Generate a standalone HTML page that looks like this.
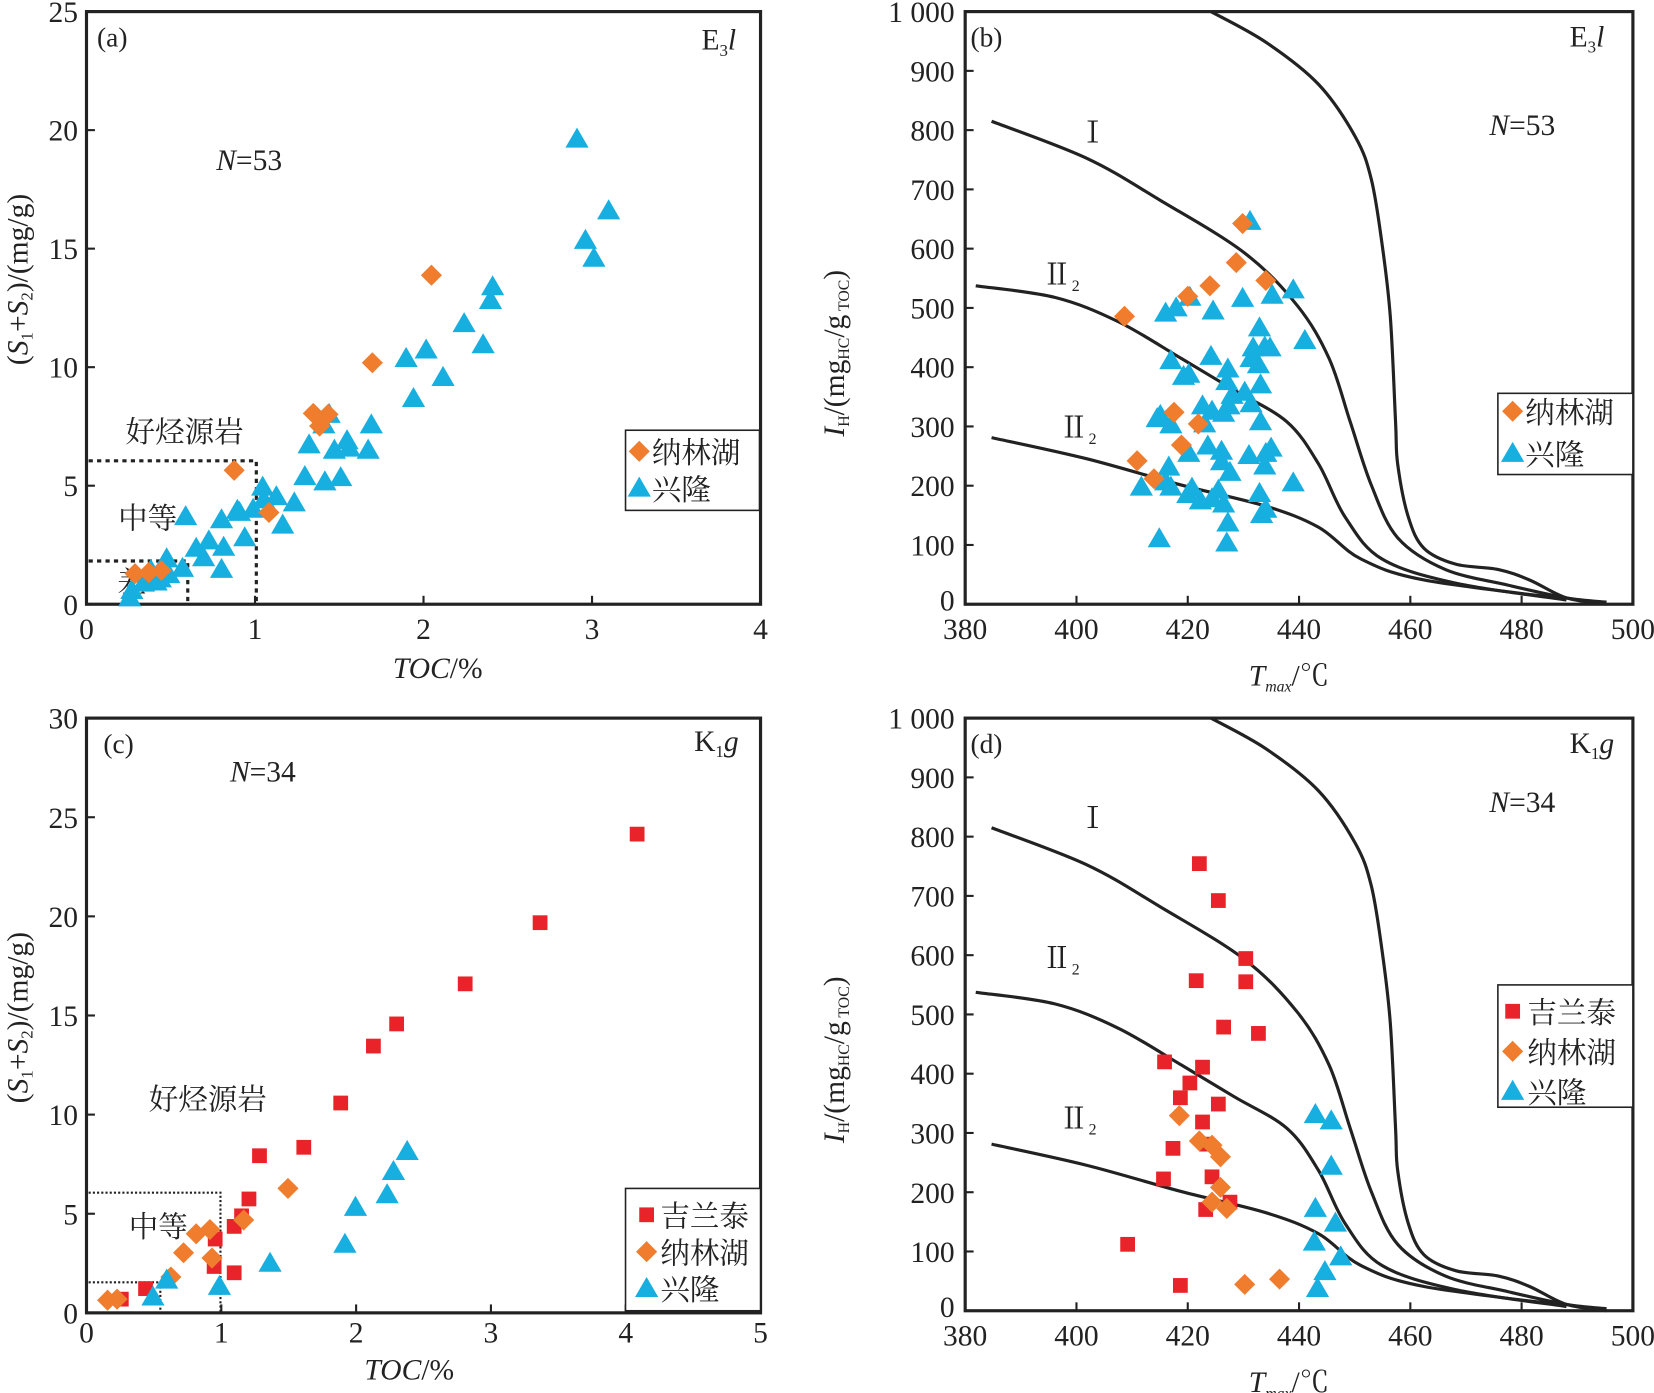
<!DOCTYPE html>
<html><head><meta charset="utf-8"><style>
html,body{margin:0;padding:0;background:#fff;width:1654px;height:1393px;overflow:hidden}
svg{display:block}
text{font-family:"Liberation Serif","Noto Serif CJK SC",serif;fill:#222}
</style></head><body>
<svg id="s" width="1654" height="1393" viewBox="0 0 1568 1321" preserveAspectRatio="none" xmlns="http://www.w3.org/2000/svg">
</svg>
<script>
const S=document.getElementById('s');let h='';
const O='#f07c2e',B='#17aee0',R='#e8242a';
function tri(x,y){h+=`<polygon points="${x},${y-11} ${x-11},${y+8} ${x+11},${y+8}" fill="${B}"/>`;}
function dia(x,y){h+=`<polygon points="${x},${y-10} ${x+10},${y} ${x},${y+10} ${x-10},${y}" fill="${O}"/>`;}
function sq(x,y){h+=`<rect x="${x-7}" y="${y-7}" width="14" height="14" fill="${R}"/>`;}
function t(x,y,s,sz,anc,extra){h+=`<text x="${x}" y="${y}" font-size="${sz||28}" text-anchor="${anc||'middle'}" ${extra||''}>${s}</text>`;}
function box(x1,y1,x2,y2){h+=`<rect x="${x1}" y="${y1}" width="${x2-x1}" height="${y2-y1}" fill="none" stroke="#222" stroke-width="3"/>`;}
function xt(x,y){h+=`<line x1="${x}" y1="${y}" x2="${x}" y2="${y-8}" stroke="#222" stroke-width="2"/>`;}
function yt(x,y){h+=`<line x1="${x}" y1="${y}" x2="${x+8}" y2="${y}" stroke="#222" stroke-width="2"/>`;}
function pl(pts,dy){
 const P=pts.map(p=>[p[0],p[1]+dy]);let d=`M${P[0][0]},${P[0][1]}`;
 for(let i=0;i<P.length-1;i++){const p0=P[i-1]||P[i],p1=P[i],p2=P[i+1],p3=P[i+2]||p2;
  d+=` C${p1[0]+(p2[0]-p0[0])/6},${p1[1]+(p2[1]-p0[1])/6} ${p2[0]-(p3[0]-p1[0])/6},${p2[1]-(p3[1]-p1[1])/6} ${p2[0]},${p2[1]}`;}
 h+=`<path d="${d}" fill="none" stroke="#222" stroke-width="3" stroke-linejoin="round"/>`;}
// ---- Panel a
box(82,11,721,573);
for(let i=0;i<=4;i++){let x=82+i*159.75;xt(x,573);t(x,606,i);}
for(let i=0;i<=5;i++){let y=573-i*5*22.48;yt(82,y);t(74,y+10,i*5,28,'end');}
h+=`<path d="M84,437 H243 V573 M84,532 H178 V573" fill="none" stroke="#222" stroke-width="3" stroke-dasharray="4,4"/>`;
t(92,44,'(a)',26,'start');t(665,47,'E<tspan font-size="16" dy="6">3</tspan><tspan dy="-6" font-style="italic">l</tspan>',28,'start');
t(205,161,'<tspan font-style="italic">N</tspan>=53',28,'start');
t(175,419,'好烃源岩',28);t(140,501,'中等',28);t(125,562,'差',28);
t(415,643,'<tspan font-style="italic">TOC</tspan>/%',28);
t(0,0,'(<tspan font-style="italic">S</tspan><tspan font-size="16" dy="5">1</tspan><tspan dy="-5">+</tspan><tspan font-style="italic">S</tspan><tspan font-size="16" dy="5">2</tspan><tspan dy="-5">)/(mg/g)</tspan>',28,'middle','transform="translate(26,265) rotate(-90)"');
[[547,132],[577,200],[555,228],[563,245],[467,272],[465,285],[440,307],[458,327],[420,358],[404,332],[385,340],[392,378],[352,403],[349,427],[329,418],[312,393],[307,403],[293,422],[331,425],[317,427],[323,453],[308,457],[289,452],[279,477],[268,498],[249,462],[250,474],[240,483],[262,471],[227,486],[232,510],[225,484],[210,493],[212,519],[193,529],[210,540],[198,513],[186,520],[176,490],[173,539],[158,530],[160,545],[143,541],[152,549],[136,553],[125,560],[123,567],[148,552]].forEach(p=>tri(...p));
[[409,261],[353,344],[297,392],[303,404],[311,393],[222,446],[255,486],[141,543],[128,544],[153,541]].forEach(p=>dia(...p));
h+=`<rect x="593" y="408" width="127" height="76" fill="#fff" stroke="#222" stroke-width="1.5"/>`;
dia(606,428);t(618,439,'纳林湖',28,'start');tri(606,463);t(618,474,'兴隆',28,'start');
const C1=[[940,115],[1030,150],[1100,190],[1180,240],[1230,290],[1260,340],[1280,400],[1300,460],[1325,510],[1370,540],[1430,555],[1485,567],[1523,571]];
const C2=[[925,271],[1000,282],[1060,305],[1120,340],[1170,370],[1220,400],[1250,440],[1275,490],[1310,530],[1380,553],[1485,569]];
const C3=[[940,415],[1030,435],[1120,460],[1200,480],[1250,500],[1290,530],[1350,550],[1485,568]];
const C4=[[1148,11],[1200,40],[1250,80],[1285,130],[1300,170],[1310,230],[1318,300],[1323,400],[1325,440],[1335,490],[1350,520],[1380,535],[1420,540],[1450,550],[1485,567],[1523,573]];
function ipanel(dy,lab,n,ny,Iy,IIy,IIIy){
 box(915,11+dy,1548,573+dy);
 for(let i=0;i<=6;i++){let x=915+i*105.5;xt(x,573+dy);t(x,606+dy,380+i*20);}
 for(let i=0;i<=10;i++){let y=573+dy-i*56.2;yt(915,y);t(905,y+10+(i==0?-4:0),i==10?'1 000':i*100,28,'end');}
 [C1,C2,C3,C4].forEach(c=>pl(c,dy));
 t(920,44+dy,lab,26,'start');
 t(1488,44+dy,n,28,'start');
 t(1412,ny+dy,'<tspan font-style="italic">N</tspan>='+(dy?'34':'53'),28,'start');
 t(1022,Iy+dy,'Ⅰ',28,'start');t(988,IIy+dy,'Ⅱ<tspan font-size="15" dy="6">2</tspan>',28,'start');t(1004,IIIy+dy,'Ⅱ<tspan font-size="15" dy="6">2</tspan>',28,'start');
 t(1222,650+dy,'<tspan font-style="italic">T</tspan><tspan font-size="15" dy="6" font-style="italic">max</tspan><tspan dy="-6">/℃</tspan>',28);
 t(0,0,'<tspan font-style="italic">I</tspan><tspan font-size="15" dy="5">H</tspan><tspan dy="-5">/(mg</tspan><tspan font-size="15" dy="5">HC</tspan><tspan dy="-5">/g</tspan><tspan font-size="15" dy="5"> TOC</tspan><tspan dy="-5">)</tspan>',28,'middle',`transform="translate(800,${335+dy}) rotate(-90)"`);
}
ipanel(0,'(b)','E<tspan font-size="16" dy="6">3</tspan><tspan dy="-6" font-style="italic">l</tspan>',128,135,270,415);
[[1185,210],[1226,275],[1237,323],[1206,280],[1178,283],[1150,295],[1128,282],[1105,297],[1115,292],[1110,342],[1127,355],[1122,357],[1148,338],[1164,350],[1163,362],[1140,385],[1149,390],[1165,385],[1160,392],[1168,375],[1180,372],[1195,365],[1186,340],[1194,311],[1199,329],[1188,330],[1204,330],[1193,346],[1186,383],[1195,400],[1100,394],[1110,403],[1097,397],[1108,443],[1127,430],[1145,423],[1158,428],[1158,438],[1166,448],[1184,432],[1200,430],[1205,425],[1199,442],[1155,465],[1149,473],[1138,475],[1126,469],[1105,457],[1130,463],[1160,478],[1164,496],[1163,515],[1194,468],[1196,488],[1200,483],[1226,458],[1082,462],[1110,462],[1099,511],[1142,402]].forEach(p=>tri(...p));
[[1178,212],[1172,249],[1147,271],[1126,281],[1200,266],[1066,300],[1113,391],[1136,402],[1120,422],[1078,437],[1094,454]].forEach(p=>dia(...p));
h+=`<rect x="1420" y="373" width="128" height="77" fill="#fff" stroke="#222" stroke-width="1.5"/>`;
dia(1434,390);t(1446,401,'纳林湖',28,'start');tri(1434,430);t(1446,441,'兴隆',28,'start');
// ---- Panel c
box(82,681,721,1245);
for(let i=0;i<=5;i++){let x=82+i*127.8;xt(x,1245);t(x,1273,i);}
for(let i=0;i<=6;i++){let y=1245-i*5*18.8;yt(82,y);t(74,y+10,i*5,28,'end');}
h+=`<path d="M84,1131 H209 V1245 M84,1216 H152 V1245" fill="none" stroke="#222" stroke-width="2" stroke-dasharray="2,2"/>`;
t(98,714,'(c)',26,'start');t(658,712,'K<tspan font-size="16" dy="6">1</tspan><tspan dy="-6" font-style="italic">g</tspan>',28,'start');
t(218,741,'<tspan font-style="italic">N</tspan>=34',28,'start');
t(197,1052,'好烃源岩',28);t(150,1173,'中等',28);
t(388,1308,'<tspan font-style="italic">TOC</tspan>/%',28);
t(0,0,'(<tspan font-style="italic">S</tspan><tspan font-size="16" dy="5">1</tspan><tspan dy="-5">+</tspan><tspan font-style="italic">S</tspan><tspan font-size="16" dy="5">2</tspan><tspan dy="-5">)/(mg/g)</tspan>',28,'middle','transform="translate(26,965) rotate(-90)"');
[[604,791],[512,875],[441,933],[376,971],[354,992],[323,1046],[288,1088],[246,1096],[236,1137],[229,1153],[222,1163],[204,1175],[222,1207],[203,1201],[138,1222],[115,1232]].forEach(p=>sq(...p));
[[273,1127],[231,1157],[199,1166],[186,1170],[174,1188],[201,1193],[162,1211],[111,1232],[102,1233]].forEach(p=>dia(...p));
[[386,1092],[373,1111],[367,1133],[337,1145],[327,1180],[256,1198],[208,1220],[158,1214],[145,1230]].forEach(p=>tri(...p));
h+=`<rect x="593" y="1127" width="128" height="116" fill="#fff" stroke="#222" stroke-width="1.5"/>`;
sq(613,1152);t(626,1163,'吉兰泰',28,'start');dia(613,1187);t(626,1198,'纳林湖',28,'start');tri(613,1222);t(626,1233,'兴隆',28,'start');
// ---- Panel d
ipanel(670,'(d)','K<tspan font-size="16" dy="6">1</tspan><tspan dy="-6" font-style="italic">g</tspan>',100,115,248,400);
[[1137,819],[1155,854],[1181,909],[1181,931],[1134,930],[1160,974],[1193,980],[1104,1007],[1140,1012],[1128,1027],[1119,1041],[1155,1047],[1140,1064],[1112,1089],[1144,1085],[1149,1116],[1103,1118],[1166,1140],[1143,1147],[1069,1180],[1119,1219]].forEach(p=>sq(...p));
[[1118,1058],[1137,1082],[1149,1086],[1157,1097],[1157,1126],[1149,1140],[1163,1146],[1180,1218],[1213,1213]].forEach(p=>dia(...p));
[[1247,1057],[1262,1063],[1262,1106],[1247,1146],[1266,1160],[1246,1178],[1256,1206],[1271,1192],[1249,1222]].forEach(p=>tri(...p));
h+=`<rect x="1420" y="934" width="128" height="116" fill="#fff" stroke="#222" stroke-width="1.5"/>`;
sq(1434,959);t(1448,970,'吉兰泰',28,'start');dia(1434,997);t(1448,1008,'纳林湖',28,'start');tri(1434,1035);t(1448,1046,'兴隆',28,'start');
S.innerHTML=h;
</script>
</body></html>
